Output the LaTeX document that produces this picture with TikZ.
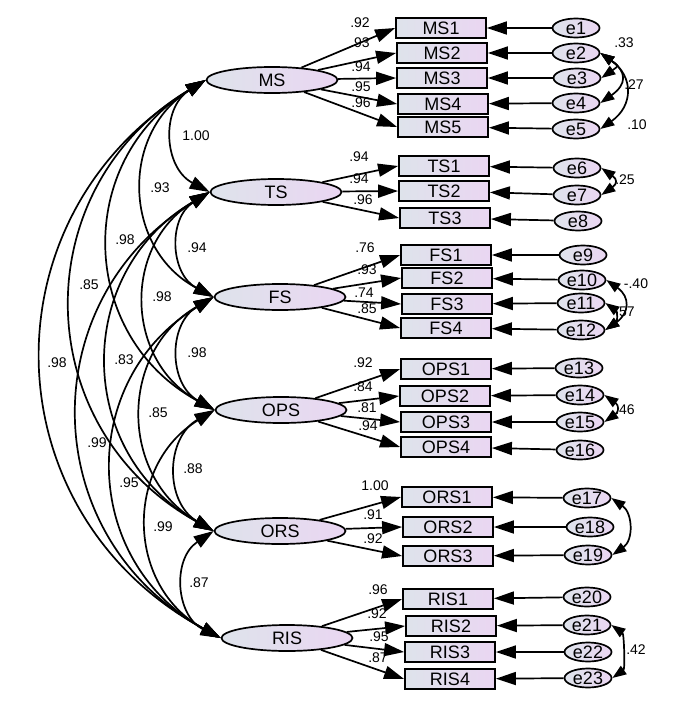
\documentclass[tikz,border=0pt]{standalone}
\usepackage{fontspec}
\setmainfont{Liberation Sans}
\usetikzlibrary{shapes.geometric,arrows.meta}
\definecolor{boxgray}{RGB}{222,227,235}
\definecolor{boxpurple}{RGB}{234,214,242}

\begin{document}
\begin{tikzpicture}[
  x=1pt, y=-1pt,
  line width=1.7pt,
  latent/.style={ellipse, draw, minimum width=131pt, minimum height=26pt, inner sep=0pt, left color=boxgray, right color=boxpurple, font=\fontsize{18}{18}\selectfont},
  item/.style={rectangle, draw, line width=1.8pt, minimum width=90pt, minimum height=20pt, inner sep=0pt, left color=boxgray, right color=boxpurple, font=\fontsize{18}{18}\selectfont},
  err/.style={ellipse, draw, minimum width=47pt, minimum height=19pt, inner sep=0pt, left color=boxgray, right color=boxpurple, label={[font=\fontsize{18}{18}\selectfont]center:#1}},
  est/.style={font=\fontsize{14}{14}\selectfont, inner sep=0pt},
  arrow/.style={-{Triangle[length=20pt, width=13pt]}},
  corr/.style={{Triangle[length=20pt, width=13pt]}-{Triangle[length=20pt, width=13pt]}, bend right=60, looseness=1.2},
  cov/.style={{Triangle[length=14pt, width=10pt]}-{Triangle[length=14pt, width=10pt]}, out=-35, in=35}
]
\useasboundingbox (0,0) rectangle (684,704);

% Latent factors
\node[latent] (MS) at (272,80) {MS};
\node[latent] (TS) at (276,192) {TS};
\node[latent] (FS) at (280,297) {FS};
\node[latent] (OPS) at (281,410) {OPS};
\node[latent] (ORS) at (280,531) {ORS};
\node[latent] (RIS) at (287,638) {RIS};

% Observed items
\node[item] (MS1) at (441,28) {MS1};
\node[item] (MS2) at (442,53) {MS2};
\node[item] (MS3) at (442,78) {MS3};
\node[item] (MS4) at (443,104) {MS4};
\node[item] (MS5) at (443,127) {MS5};
\node[item] (TS1) at (444,166) {TS1};
\node[item] (TS2) at (444,191) {TS2};
\node[item] (TS3) at (445,218) {TS3};
\node[item] (FS1) at (446,255) {FS1};
\node[item] (FS2) at (447,278) {FS2};
\node[item] (FS3) at (447,304) {FS3};
\node[item] (FS4) at (446,328) {FS4};
\node[item] (OPS1) at (446,369) {OPS1};
\node[item] (OPS2) at (445,396) {OPS2};
\node[item] (OPS3) at (446,422) {OPS3};
\node[item] (OPS4) at (446,447) {OPS4};
\node[item] (ORS1) at (447,497) {ORS1};
\node[item] (ORS2) at (448,527) {ORS2};
\node[item] (ORS3) at (448,556) {ORS3};
\node[item] (RIS1) at (448,599) {RIS1};
\node[item] (RIS2) at (451,626) {RIS2};
\node[item] (RIS3) at (450,652) {RIS3};
\node[item] (RIS4) at (450,679) {RIS4};

% Error terms
\node[err=e1] (e1) at (576,28) {};
\node[err=e2] (e2) at (576,53) {};
\node[err=e3] (e3) at (577,78) {};
\node[err=e4] (e4) at (576,103) {};
\node[err=e5] (e5) at (576,129) {};
\node[err=e6] (e6) at (577,168) {};
\node[err=e7] (e7) at (577,195) {};
\node[err=e8] (e8) at (578,221) {};
\node[err=e9] (e9) at (583,255) {};
\node[err=e10] (e10) at (582,280) {};
\node[err=e11] (e11) at (581,303) {};
\node[err=e12] (e12) at (581,330) {};
\node[err=e13] (e13) at (579,368) {};
\node[err=e14] (e14) at (580,395) {};
\node[err=e15] (e15) at (580,422) {};
\node[err=e16] (e16) at (580,450) {};
\node[err=e17] (e17) at (587,498) {};
\node[err=e18] (e18) at (590,527) {};
\node[err=e19] (e19) at (588,555) {};
\node[err=e20] (e20) at (587,597) {};
\node[err=e21] (e21) at (587,625) {};
\node[err=e22] (e22) at (588,652) {};
\node[err=e23] (e23) at (588,678) {};

% Loading estimates
\node[est] (lMS1) at (360,23) {.92};
\node[est] (lMS2) at (360,43) {.93};
\node[est] (lMS3) at (361,67) {.94};
\node[est] (lMS4) at (361,87) {.95};
\node[est] (lMS5) at (361,103) {.96};
\node[est] (lTS1) at (359,157) {.94};
\node[est] (lTS2) at (359,179) {.94};
\node[est] (lTS3) at (363,200) {.96};
\node[est] (lFS1) at (365,248) {.76};
\node[est] (lFS2) at (367,270) {.93};
\node[est] (lFS3) at (364,293) {.74};
\node[est] (lFS4) at (367,309) {.85};
\node[est] (lOPS1) at (363,363) {.92};
\node[est] (lOPS2) at (363,387) {.84};
\node[est] (lOPS3) at (367,408) {.81};
\node[est] (lOPS4) at (368,426) {.94};
\node[est] (lORS1) at (375,486) {1.00};
\node[est] (lORS2) at (373,515) {.91};
\node[est] (lORS3) at (373,539) {.92};
\node[est] (lRIS1) at (378,590) {.96};
\node[est] (lRIS2) at (377,614) {.92};
\node[est] (lRIS3) at (379,637) {.95};
\node[est] (lRIS4) at (378,658) {.87};

% Factor correlations
\node[est] (cMSTS) at (196,136) {1.00};
\node[est] (cMSFS) at (160,188) {.93};
\node[est] (cMSOPS) at (125,240) {.98};
\node[est] (cMSORS) at (89,285) {.85};
\node[est] (cMSRIS) at (57,363) {.98};
\node[est] (cTSFS) at (197,248) {.94};
\node[est] (cTSOPS) at (162,297) {.98};
\node[est] (cTSORS) at (124,360) {.83};
\node[est] (cTSRIS) at (97,443) {.99};
\node[est] (cFSOPS) at (197,353) {.98};
\node[est] (cFSORS) at (158,413) {.85};
\node[est] (cFSRIS) at (129,483) {.95};
\node[est] (cOPSORS) at (193,469) {.88};
\node[est] (cOPSRIS) at (163,527) {.99};
\node[est] (cORSRIS) at (199,583) {.87};

% Error covariances
\node[est] (c23) at (624,43) {.33};
\node[est] (c24) at (634,85) {.27};
\node[est] (c25) at (637,125) {.10};
\node[est] (c67) at (625,180) {.25};
\node[est] (c1012) at (636,284) {-.40};
\node[est] (c1112) at (625,312) {.57};
\node[est] (c1415) at (625,410) {.46};
\node[est] (c2123) at (636,650) {.42};

% Loading arrows
\draw[arrow] (MS) -- (MS1.west);
\draw[arrow] (MS) -- (MS2.west);
\draw[arrow] (MS) -- (MS3.west);
\draw[arrow] (MS) -- (MS4.west);
\draw[arrow] (MS) -- (MS5.west);
\draw[arrow] (TS) -- (TS1.west);
\draw[arrow] (TS) -- (TS2.west);
\draw[arrow] (TS) -- (TS3.west);
\draw[arrow] (FS) -- (FS1.west);
\draw[arrow] (FS) -- (FS2.west);
\draw[arrow] (FS) -- (FS3.west);
\draw[arrow] (FS) -- (FS4.west);
\draw[arrow] (OPS) -- (OPS1.west);
\draw[arrow] (OPS) -- (OPS2.west);
\draw[arrow] (OPS) -- (OPS3.west);
\draw[arrow] (OPS) -- (OPS4.west);
\draw[arrow] (ORS) -- (ORS1.west);
\draw[arrow] (ORS) -- (ORS2.west);
\draw[arrow] (ORS) -- (ORS3.west);
\draw[arrow] (RIS) -- (RIS1.west);
\draw[arrow] (RIS) -- (RIS2.west);
\draw[arrow] (RIS) -- (RIS3.west);
\draw[arrow] (RIS) -- (RIS4.west);

% Error arrows
\draw[arrow] (e1) -- (MS1);
\draw[arrow] (e2) -- (MS2);
\draw[arrow] (e3) -- (MS3);
\draw[arrow] (e4) -- (MS4);
\draw[arrow] (e5) -- (MS5);
\draw[arrow] (e6) -- (TS1);
\draw[arrow] (e7) -- (TS2);
\draw[arrow] (e8) -- (TS3);
\draw[arrow] (e9) -- (FS1);
\draw[arrow] (e10) -- (FS2);
\draw[arrow] (e11) -- (FS3);
\draw[arrow] (e12) -- (FS4);
\draw[arrow] (e13) -- (OPS1);
\draw[arrow] (e14) -- (OPS2);
\draw[arrow] (e15) -- (OPS3);
\draw[arrow] (e16) -- (OPS4);
\draw[arrow] (e17) -- (ORS1);
\draw[arrow] (e18) -- (ORS2);
\draw[arrow] (e19) -- (ORS3);
\draw[arrow] (e20) -- (RIS1);
\draw[arrow] (e21) -- (RIS2);
\draw[arrow] (e22) -- (RIS3);
\draw[arrow] (e23) -- (RIS4);

% Correlation curves
\draw[corr] (MS.west) to (TS.west);
\draw[corr] (MS.west) to (FS.west);
\draw[corr] (MS.west) to (OPS.west);
\draw[corr] (MS.west) to (ORS.west);
\draw[corr] (MS.west) to (RIS.west);
\draw[corr] (TS.west) to (FS.west);
\draw[corr] (TS.west) to (OPS.west);
\draw[corr] (TS.west) to (ORS.west);
\draw[corr] (TS.west) to (RIS.west);
\draw[corr] (FS.west) to (OPS.west);
\draw[corr] (FS.west) to (ORS.west);
\draw[corr] (FS.west) to (RIS.west);
\draw[corr] (OPS.west) to (ORS.west);
\draw[corr] (OPS.west) to (RIS.west);
\draw[corr] (ORS.west) to (RIS.west);

% Covariance curves
\draw[cov, looseness=2.3] (e2.east) to (e3.east);
\draw[cov, looseness=1.67] (e2.east) to (e4.east);
\draw[cov, looseness=1.37] (e2.east) to (e5.east);
\draw[cov, looseness=1.85] (e6.east) to (e7.east);
\draw[cov, looseness=1.5] (e10.east) to (e12.east);
\draw[cov, looseness=1.4] (e11.east) to (e12.east);
\draw[cov, looseness=1.7] (e14.east) to (e15.east);
\draw[cov, looseness=1.17] (e17.east) to (e19.east);
\draw[cov, looseness=0.75] (e21.east) to (e23.east);

\end{tikzpicture}
\end{document}
